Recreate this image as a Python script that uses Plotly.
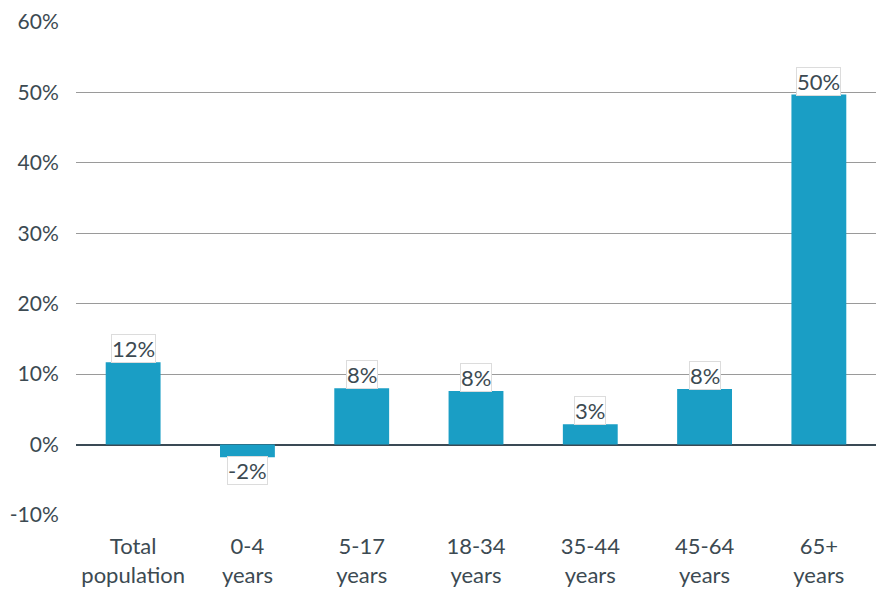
import plotly.graph_objects as go

categories = ["Total<br>population", "0-4<br>years", "5-17<br>years", "18-34<br>years",
              "35-44<br>years", "45-64<br>years", "65+<br>years"]
change = [0.117, -0.018, 0.080, 0.076, 0.029, 0.079, 0.497]
tick_vals = [-0.1, 0.0, 0.1, 0.2, 0.3, 0.4, 0.5, 0.6]
tick_text = ["-10%", "0%", "10%", "20%", "30%", "40%", "50%", "60%"]

bar_color = "#1a9ec5"
text_color = "#3c4a52"
font_family = "Lato, Noto Sans, sans-serif"

fig = go.Figure(go.Bar(x=categories, y=change, marker=dict(color=bar_color, line=dict(width=0))))

# value labels with a white halo box
for cat, v in zip(categories, change):
    fig.add_annotation(
        x=cat, y=v, text=f"{round(v * 100):.0f}%", showarrow=False,
        yanchor="bottom" if v >= 0 else "top",
        yshift=-1 if v >= 0 else 1,
        font=dict(size=22, color=text_color, family=font_family),
        bgcolor="white", bordercolor="#dcdcdc", borderwidth=1, borderpad=0,
    )

fig.update_layout(
    width=876, height=591,
    margin=dict(l=76, r=0, t=22, b=76),
    plot_bgcolor="white", paper_bgcolor="white",
    bargap=0.52, showlegend=False,
    font=dict(family=font_family, color=text_color),
    xaxis=dict(tickfont=dict(size=22, color=text_color), showgrid=False,
               showline=False, ticks="", ticklabelstandoff=16),
    yaxis=dict(range=[-0.1, 0.6], tickvals=tick_vals, ticktext=tick_text,
               tickfont=dict(size=21, color=text_color),
               showgrid=True, gridcolor="#9a9a9a", gridwidth=1,
               zeroline=True, zerolinecolor="#3a4a55", zerolinewidth=1.5,
               ticks="outside", ticklen=12, tickcolor="rgba(0,0,0,0)"),
)

fig.write_html("out.html")
